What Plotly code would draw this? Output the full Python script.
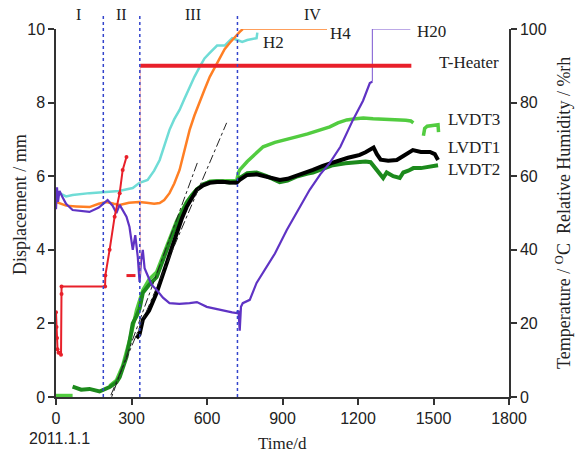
import plotly.graph_objects as go

# ---------------- data ----------------
# Relative humidity sensors (right axis, %rh)
h2_day = [0, 10, 40, 66, 133, 200, 250, 305, 332, 364, 390, 412, 430, 451, 470, 491, 510, 531, 550, 571,
          590, 611, 640, 670, 700, 720, 740, 760, 780, 797, 800]
h2_val = [55, 55.5, 54.5, 54.9, 55.4, 55.7, 56.0, 56.8, 58.2, 59.0, 61.5, 64.4, 68, 72.6, 75.5, 78, 81, 84.2, 87, 89.7,
          92, 93.5, 95.5, 95.5, 97.5, 97, 96.5, 97, 97.3, 97.5, 99]

h4_day = [0, 14, 40, 80, 133, 170, 200, 230, 253, 290, 330, 360, 390, 412, 430, 451, 470, 491, 510, 531,
          550, 571, 590, 611, 630, 651, 670, 690, 710, 730, 742]
h4_val = [53, 52.7, 52, 51.8, 51.6, 52.5, 53, 52.5, 52.2, 52.8, 53, 52.8, 52.5, 52.7, 53.5, 55.4, 58, 61.7, 67, 72.6,
          76.5, 79.9, 83.5, 87, 89.5, 92.4, 94.5, 96.2, 97.8, 99.2, 100]
h4_tail_day = [742, 1077]
h4_tail_val = [100, 100]

h20_day = [0, 4, 8, 14, 26, 40, 66, 100, 133, 170, 205, 225, 240, 253, 265, 280, 292, 300, 305, 315,
           325, 332, 338, 345, 352, 360, 380, 400, 425, 451, 490, 531, 560, 599, 630, 663, 700, 718, 725, 730,
           735, 742, 770, 797, 837, 870, 917, 960, 1008, 1050, 1088, 1130, 1180, 1220, 1247, 1257]
h20_val = [51, 57, 53, 56, 54.3, 52.5, 50.8, 50.5, 50.3, 51.5, 53.5, 52, 50, 52.2, 50.8, 49, 46.2, 42, 40, 44,
           38, 31.3, 37, 40, 35, 33.7, 30.5, 29.1, 27, 25.5, 25.3, 25.5, 25.8, 24.5, 24, 23.6, 23, 22.8, 23.5, 18,
           24.5, 25.5, 26.4, 31, 35.3, 39, 45.4, 50.5, 56.3, 60.5, 63.6, 68, 75.3, 80.5, 85.3, 85.7]
h20_tail_day = [1257, 1257, 1408]
h20_tail_val = [85.7, 100, 100]

# Heater temperature (right axis, degC)
th_early_day = [0, 2, 4, 6, 10, 16, 20, 22, 22, 195, 196, 213, 233, 253, 265, 280]
th_early_val = [23, 19, 16, 13, 12, 12, 11.5, 28, 30, 30, 33, 40, 49, 55.4, 61.7, 65.2]
th_mid_day = [280, 332, 335, 335]
th_mid_val = [33, 33, 33, 90]
th_hold_day = [335, 1412]
th_hold_val = [90, 90]

# Displacement sensors (left axis, mm)
lvdt1_day = [320, 332, 345, 370, 400, 420, 440, 460, 480, 500, 519, 540, 559, 585, 611, 640, 663, 690, 718, 730,
             758, 797, 837, 870, 889, 920, 960, 1000, 1021, 1060, 1100, 1128, 1160, 1190, 1207, 1230, 1250, 1262,
             1275, 1290, 1320, 1354, 1380, 1400, 1418, 1450, 1486, 1505, 1518]
lvdt1_val = [1.6, 1.7, 2.1, 2.35, 2.83, 3.2, 3.64, 4.05, 4.46, 4.85, 5.16, 5.42, 5.63, 5.75, 5.82, 5.84, 5.85, 5.83,
             5.82, 5.9, 6.03, 6.05, 5.98, 5.92, 5.9, 5.93, 6.02, 6.1, 6.17, 6.28, 6.37, 6.44, 6.5, 6.55, 6.58, 6.65,
             6.75, 6.78, 6.6, 6.45, 6.42, 6.44, 6.55, 6.62, 6.71, 6.66, 6.66, 6.6, 6.44]

lvdt2_day = [66, 100, 133, 173, 213, 240, 253, 265, 280, 292, 305, 320, 332, 345, 370, 400, 420, 440, 460, 480,
             500, 519, 540, 559, 585, 611, 640, 663, 690, 718, 730, 760, 797, 837, 870, 889, 920, 960, 1000, 1021,
             1060, 1100, 1150, 1195, 1230, 1250, 1270, 1287, 1300, 1314, 1340, 1366, 1380, 1400, 1420, 1450, 1480, 1518]
lvdt2_val = [0.28, 0.2, 0.22, 0.15, 0.27, 0.4, 0.54, 0.8, 1.09, 1.5, 2.0, 2.2, 2.4, 2.83, 3.05, 3.26, 3.6, 4.0, 4.37,
             4.73, 5.0, 5.27, 5.48, 5.63, 5.78, 5.84, 5.86, 5.85, 5.83, 5.85, 5.95, 6.08, 6.1, 6.0, 5.88, 5.84, 5.88,
             6.0, 6.07, 6.1, 6.2, 6.3, 6.35, 6.39, 6.4, 6.38, 6.2, 6.05, 5.95, 6.1, 6.0, 5.95, 6.1, 6.15, 6.22, 6.22,
             6.25, 6.3]

lvdt3_day = [0, 30, 66, None, 213, 240, 265, 280, 300, 320, 345, 370, 400, 440, 480, 519, 559, 611, 663, 718,
             725, 730, 760, 790, 823, 870, 910, 955, 1000, 1050, 1088, 1120, 1155, 1190, 1221, 1260, 1300, 1350,
             1390, 1410, 1420, None, 1460, 1465, 1475, 1500, 1518, 1520]
lvdt3_val = [0.04, 0.04, 0.04, None, 0.3, 0.45, 0.85, 1.2, 1.74, 2.36, 2.9, 3.2, 3.4, 4.1, 4.8, 5.3, 5.65, 5.86,
             5.87, 5.88, 6.1, 6.17, 6.4, 6.6, 6.8, 6.92, 7.0, 7.07, 7.15, 7.25, 7.34, 7.45, 7.53, 7.56, 7.58, 7.56,
             7.55, 7.54, 7.52, 7.5, 7.45, None, 7.1, 7.3, 7.36, 7.38, 7.4, 7.2]

# Linear fits (dash-dot)
fitA_day = [190, 678]
fitA_val = [-0.4, 7.45]
fitB_day = [205, 563]
fitB_val = [-0.3, 6.39]

# Stage boundaries (days) and stage names
stage_bounds = [188, 333, 721]
stage_names = ["I", "II", "III", "IV"]
stage_label_days = [90, 260, 543, 1021]

x_ticks = [0, 300, 600, 900, 1200, 1500, 1800]
yl_ticks = [0, 2, 4, 6, 8, 10]
yr_ticks = [0, 20, 40, 60, 80, 100]

# ---------------- figure ----------------
C_H2 = "#6fdcd6"
C_H4 = "#ff7f24"
C_H20 = "#5f33c4"
C_RED = "#e8202a"
C_L1 = "#000000"
C_L2 = "#1c8a1c"
C_L3 = "#52cc40"

fig = go.Figure()

def line(x, y, color, width, axis="y", dash="solid", mode="lines", msize=4):
    fig.add_trace(go.Scatter(x=x, y=y, mode=mode, yaxis=axis, showlegend=False, hoverinfo="skip",
                             line=dict(color=color, width=width, dash=dash),
                             marker=dict(color=color, size=msize), connectgaps=False))

line(h2_day, h2_val, C_H2, 2.5, "y2")
line(h4_day, h4_val, C_H4, 2.5, "y2")
line(h4_tail_day, h4_tail_val, C_H4, 1.5, "y2")
line(h20_day, h20_val, C_H20, 2.2, "y2")
line(h20_tail_day, h20_tail_val, "#7a55d0", 1, "y2")
line(th_early_day, th_early_val, C_RED, 2, "y2", mode="lines+markers", msize=4)
line(th_mid_day[:2], th_mid_val[:2], C_RED, 3, "y2", dash="dash")
line(th_mid_day[2:], th_mid_val[2:], "#f4a0a0", 0.8, "y2")
line(th_hold_day, th_hold_val, C_RED, 4, "y2")
line(lvdt3_day, lvdt3_val, C_L3, 3.5)
line(lvdt2_day, lvdt2_val, C_L2, 4)
line(lvdt1_day, lvdt1_val, C_L1, 4)
line(fitA_day, fitA_val, "#222222", 1, dash="dashdot")
line(fitB_day, fitB_val, "#222222", 1, dash="dashdot")

shapes = []
for d in stage_bounds:
    shapes.append(dict(type="line", xref="x", yref="paper", x0=d, x1=d, y0=0, y1=1.038,
                       line=dict(color="#3344cc", width=1.5, dash="dot")))

serif = "Liberation Serif, Times New Roman, serif"
sans = "Liberation Sans, Arial, sans-serif"

ann = []
def text(x, y, t, fam, size, xref="paper", angle=0):
    ann.append(dict(x=x, y=y, xref=xref, yref="paper", text=t, showarrow=False, textangle=angle,
                    xanchor="center", yanchor="middle",
                    font=dict(family=fam, size=size, color="#222")))

for name, d in zip(stage_names, stage_label_days):
    text(d, 1.04, name, serif, 16, xref="x")

labels = [("H2", 0.481, 0.962), ("H4", 0.627, 0.989), ("H20", 0.830, 0.992), ("T-Heater", 0.912, 0.908),
          ("LVDT3", 0.923, 0.753), ("LVDT1", 0.923, 0.679), ("LVDT2", 0.923, 0.617)]
for t, x, y in labels:
    text(x, y, t, serif, 17)

text(-0.079, 0.522, "Displacement / mm", serif, 18, angle=-90)
text(1.119, 0.5, "Temperature / <sup>O</sup>C  Relative Humidity / %rh", serif, 18, angle=-90)
text(0.499, -0.125, "Time/d", serif, 17)
text(0.008, -0.113, "2011.1.1", sans, 16)

axis_common = dict(showline=True, linecolor="#333", linewidth=1.5, ticks="outside", ticklen=6,
                   tickcolor="#333", tickwidth=1.5, showgrid=False, zeroline=False,
                   tickfont=dict(family=sans, size=16, color="#222"))

fig.update_layout(
    width=576, height=455,
    margin=dict(l=56, r=67, t=29, b=58),
    paper_bgcolor="white", plot_bgcolor="white",
    xaxis=dict(range=[0, 1800], tickvals=x_ticks, **axis_common),
    yaxis=dict(range=[0, 10], tickvals=yl_ticks, **axis_common),
    yaxis2=dict(range=[0, 100], tickvals=yr_ticks, overlaying="y", side="right", **axis_common),
    shapes=shapes, annotations=ann,
)

fig.write_html("out.html")
